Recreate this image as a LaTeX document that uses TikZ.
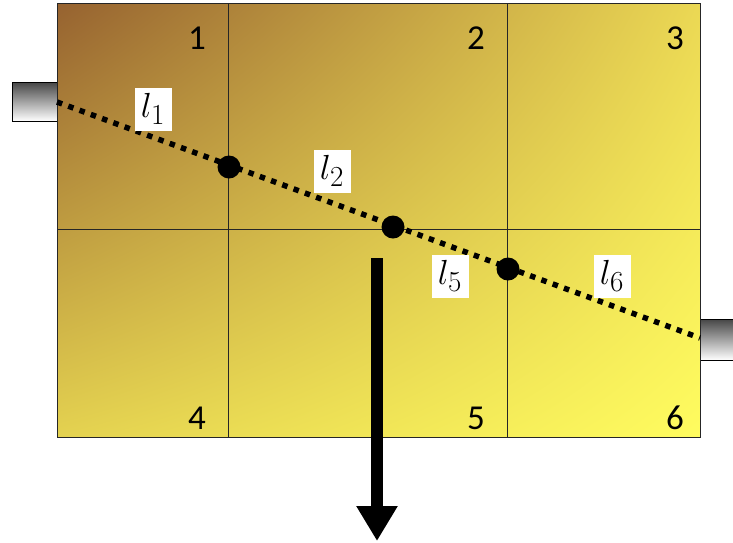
\documentclass[tikz,border=0pt]{standalone}
\usepackage{fontspec}
\newfontfamily\numfont{Carlito}
\usetikzlibrary{arrows.meta,shadings}
\definecolor{cTL}{RGB}{150,98,48}
\definecolor{cTR}{RGB}{235,216,84}
\definecolor{cBL}{RGB}{228,210,80}
\definecolor{cBR}{RGB}{255,252,95}
\definecolor{plugdark}{RGB}{70,70,70}
\newcommand{\seglab}[1]{\scalebox{1.4}{$l_{#1}$}}
\tikzset{
  grid/.style={draw=black!85, line width=1pt},
  cellnum/.style={font=\numfont\fontsize{35}{35}\selectfont, text=black, inner sep=0pt},
  seglabel/.style={fill=white, inner sep=0pt, minimum width=37pt, minimum height=43pt, font=\fontsize{28}{28}\selectfont},
  junction/.style={circle, fill=black, minimum size=23pt, inner sep=0pt},
  plug/.style={draw=black, line width=0.8pt, top color=plugdark, bottom color=white},
  pathline/.style={line width=5.5pt, dash pattern=on 5.5pt off 6.5pt},
  outflow/.style={line width=12pt, -{Triangle[width=39pt,length=35pt]}}
}
\begin{document}
\begin{tikzpicture}[x=1pt,y=-1pt]
\useasboundingbox (0,0) rectangle (733,542);
% plugs
\path[plug] (12,82) rectangle (57,121);
\path[plug] (700,319) rectangle (740,360);
% box
\shade[upper left=cTL, upper right=cTR, lower left=cBL, lower right=cBR] (57,3) rectangle (700,437);
\draw[grid] (57,3) rectangle (700,437);
\draw[grid] (228,3) -- (228,437);
\draw[grid] (507,3) -- (507,437);
\draw[grid] (57,229) -- (700,229);
% numbers
\node[cellnum] (n1) at (197,38) {1};
\node[cellnum] (n2) at (476,38) {2};
\node[cellnum] (n3) at (675,38) {3};
\node[cellnum] (n4) at (197,418) {4};
\node[cellnum] (n5) at (476,418) {5};
\node[cellnum] (n6) at (675,418) {6};
% dotted path
\coordinate (pin) at (57,102);
\coordinate (pout) at (700,338);
\draw[pathline] (pin) -- (pout);
\node[junction] (j1) at (229,167) {};
\node[junction] (j2) at (393,227) {};
\node[junction] (j3) at (508,269) {};
% labels
\node[seglabel] (l1) at (153,109) {\seglab{1}};
\node[seglabel] (l2) at (332,171) {\seglab{2}};
\node[seglabel] (l5) at (450,276) {\seglab{5}};
\node[seglabel] (l6) at (612,276) {\seglab{6}};
% outflow arrow
\coordinate (a0) at (377,258);
\coordinate (a1) at (377,541);
\draw[outflow] (a0) -- (a1);
\end{tikzpicture}
\end{document}
